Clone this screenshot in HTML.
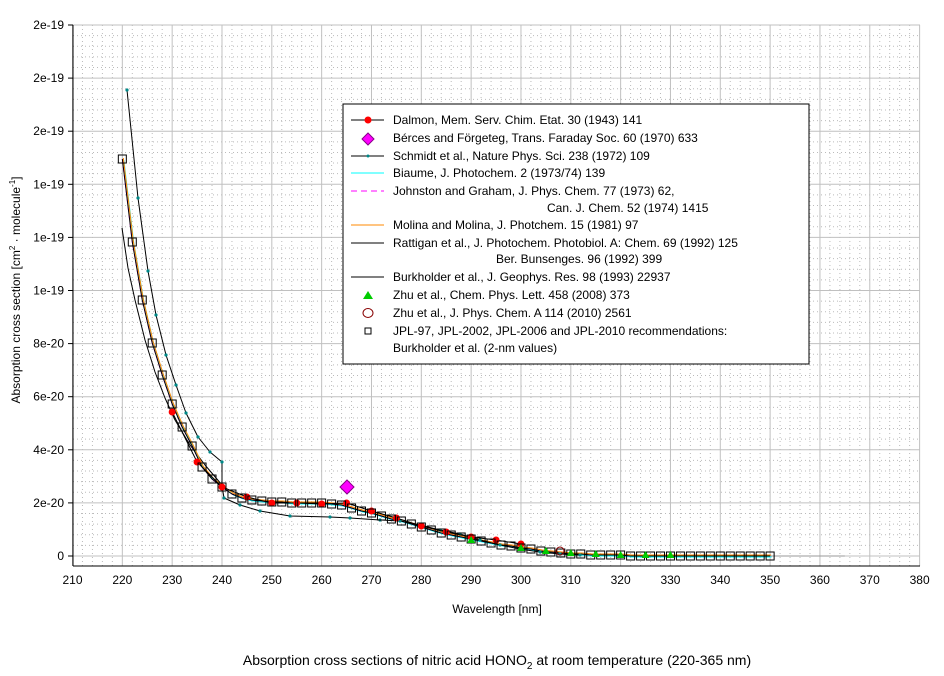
<!DOCTYPE html>
<html><head><meta charset="utf-8"><style>
body{margin:0;background:#fff;width:944px;height:676px;overflow:hidden}
svg{display:block;font-family:"Liberation Sans",Arial,sans-serif}
</style></head><body>
<svg id="s" width="944" height="676" viewBox="0 0 944 676" xmlns="http://www.w3.org/2000/svg">
<g id="grid"></g>
<g id="data"></g>
<line x1="73" y1="25" x2="73" y2="566" stroke="#000"/>
<line x1="73" y1="566" x2="920" y2="566" stroke="#000"/>
<g id="lab" font-size="12" fill="#000"></g>
<text x="497" y="613" font-size="12" text-anchor="middle">Wavelength [nm]</text>
<text transform="translate(20,290) rotate(-90)" font-size="12" text-anchor="middle">Absorption cross section [cm<tspan font-size="8" dy="-5">2</tspan><tspan dy="5"> · molecule</tspan><tspan font-size="8" dy="-5">-1</tspan><tspan dy="5">]</tspan></text>
<text x="497" y="665" font-size="14" text-anchor="middle">Absorption cross sections of nitric acid HONO<tspan font-size="10" dy="4">2</tspan><tspan dy="-4"> at room temperature (220-365 nm)</tspan></text>
<g id="leg" font-size="12">
<rect x="343" y="104" width="466" height="260" fill="#fff" stroke="#000"/>
<line x1="351" y1="120" x2="384" y2="120" stroke="#000"/><circle cx="368" cy="120" r="3.5" fill="#f00"/>
<path d="M368 133 L374 139 L368 145 L362 139Z" fill="#f0f" stroke="#808"/>
<line x1="351" y1="156" x2="384" y2="156" stroke="#000"/><circle cx="368" cy="156" r="1.5" fill="#088"/>
<line x1="351" y1="173" x2="384" y2="173" stroke="#0ff"/>
<line x1="351" y1="191" x2="384" y2="191" stroke="#f0f" stroke-dasharray="6,4"/>
<line x1="351" y1="225" x2="384" y2="225" stroke="#f80"/>
<line x1="351" y1="243" x2="384" y2="243" stroke="#000"/>
<line x1="351" y1="277" x2="384" y2="277" stroke="#000"/>
<path d="M368 291 L373 299 L363 299Z" fill="#0c0"/>
<ellipse cx="368" cy="313" rx="5" ry="4.5" fill="none" stroke="#800"/>
<rect x="365" y="328" width="6" height="6" fill="none" stroke="#000"/>
<text x="393" y="124">Dalmon, Mem. Serv. Chim. Etat. 30 (1943) 141</text>
<text x="393" y="142">Bérces and Förgeteg, Trans. Faraday Soc. 60 (1970) 633</text>
<text x="393" y="160">Schmidt et al., Nature Phys. Sci. 238 (1972) 109</text>
<text x="393" y="177">Biaume, J. Photochem. 2 (1973/74) 139</text>
<text x="393" y="195">Johnston and Graham, J. Phys. Chem. 77 (1973) 62,</text>
<text x="547" y="212">Can. J. Chem. 52 (1974) 1415</text>
<text x="393" y="229">Molina and Molina, J. Photchem. 15 (1981) 97</text>
<text x="393" y="247">Rattigan et al., J. Photochem. Photobiol. A: Chem. 69 (1992) 125</text>
<text x="496" y="263">Ber. Bunsenges. 96 (1992) 399</text>
<text x="393" y="281">Burkholder et al., J. Geophys. Res. 98 (1993) 22937</text>
<text x="393" y="299">Zhu et al., Chem. Phys. Lett. 458 (2008) 373</text>
<text x="393" y="317">Zhu et al., J. Phys. Chem. A 114 (2010) 2561</text>
<text x="393" y="335">JPL-97, JPL-2002, JPL-2006 and JPL-2010 recommendations:</text>
<text x="393" y="352">Burkholder et al. (2-nm values)</text>
</g>
</svg>
<script>
const NS="http://www.w3.org/2000/svg";
function el(p,t,a){const e=document.createElementNS(NS,t);for(const k in a)e.setAttribute(k,a[k]);p.appendChild(e);return e;}
const g=document.getElementById('grid'),d=document.getElementById('data'),lab=document.getElementById('lab');
const X=w=>72.5+(w-210)*4.983, Y0=556, YS=53.1;
for(let i=0;i<=85;i++){const x=72.5+i*9.966;if(i%5)el(g,'line',{x1:x,y1:25,x2:x,y2:566,stroke:'#bbb','stroke-dasharray':'1,3'});}
for(let i=-1;i<=50;i++){const y=Y0-i*YS/5;if(y<25||y>566)continue;if(i%5)el(g,'line',{x1:73,y1:y,x2:920,y2:y,stroke:'#bbb','stroke-dasharray':'1,3'});}
for(let i=0;i<=17;i++){const x=X(210+i*10);el(g,'line',{x1:x,y1:25,x2:x,y2:566,stroke:'#c0c0c0'});const t=el(lab,'text',{x:x,y:584,'text-anchor':'middle'});t.textContent=210+i*10;}
const yl=['0','2e-20','4e-20','6e-20','8e-20','1e-19','1e-19','1e-19','2e-19','2e-19','2e-19'];
for(let i=0;i<=10;i++){const y=Y0-i*YS;el(g,'line',{x1:73,y1:y,x2:920,y2:y,stroke:'#c0c0c0'});el(g,'line',{x1:68,y1:y,x2:73,y2:y,stroke:'#000'});const t=el(lab,'text',{x:64,y:y+4,'text-anchor':'end'});t.textContent=yl[i];}
function pl(pts,st,w,dash){el(d,'polyline',{points:pts.map(p=>p.join(',')).join(' '),fill:'none',stroke:st,'stroke-width':w||1,'stroke-dasharray':dash||'none','stroke-linejoin':'round'});}
const sq=[[220,159],[222,242],[224,300],[226,343],[228,375],[230,404],[232,427],[234,446],[236,467],[238,479],[240,487],[242,494],[244,498],[246,500],[248,501],[250,502],[252,502],[254,503],[256,503],[258,503],[260,503],[262,504],[264,505],[266,508],[268,511],[270,513],[272,516],[274,519],[276,521],[278,524],[280,527],[282,530],[284,533],[286,535],[288,537],[290,539],[292,541],[294,543],[296,545],[298,546],[300,548],[302,549],[304,551],[306,552],[308,553],[310,554],[312,554],[314,555],[316,555],[318,555],[320,555],[322,556],[324,556],[326,556],[328,556],[330,556],[332,556],[334,556],[336,556],[338,556],[340,556],[342,556],[344,556],[346,556],[348,556],[350,556]];
const P=sq.map(p=>[X(p[0]),p[1]]);
el(d,'line',{x1:X(350),y1:556,x2:X(365),y2:556,stroke:'#999'});
pl([[122,228],[128,268],[135,300],[145,340],[155,372],[165,398],[175,420],[190,445],[205,465],[222,485]],'#000');
pl(P.map(p=>[p[0]+1.5,p[1]+1]),'#0ff');pl(P,'#f0f',1,'5,3');pl(P.map(p=>[p[0]+1,p[1]-1]),'#f80');pl(P,'#000');
const sc=[[127,90],[138,198],[148,271],[156,315],[166,355],[176,385],[186,413],[198,437],[210,452],[222,462],[222,486],[224,498],[240,505],[260,511],[290,516],[330,517],[350,518],[380,520],[400,521],[420,525],[440,530],[460,534],[480,540],[500,545],[520,549],[540,552],[560,554],[580,555]];
pl(sc,'#000');sc.forEach(p=>el(d,'circle',{cx:p[0],cy:p[1],r:1.6,fill:'#088'}));
const dm=[[230,412],[235,462],[240,487],[245,497],[250,503],[255,503],[260,504],[265,503],[270,511],[275,518],[280,526],[285,532],[290,537],[295,540],[300,544]];
pl(dm.map(p=>[X(p[0]),p[1]]),'#000');dm.forEach(p=>el(d,'circle',{cx:X(p[0]),cy:p[1],r:3.5,fill:'#f00'}));
P.forEach(p=>el(d,'rect',{x:p[0]-4,y:p[1]-4,width:8,height:8,fill:'none',stroke:'#000'}));
[[290,540],[300,548],[305,551],[310,553],[315,554],[320,555],[325,555],[330,555]].forEach(p=>{const x=X(p[0]),y=p[1];el(d,'path',{d:`M${x} ${y-4}L${x+4} ${y+3}L${x-4} ${y+3}Z`,fill:'#0c0'});});
el(d,'ellipse',{cx:560,cy:551,rx:4,ry:4,fill:'none',stroke:'#800'});
el(d,'path',{d:'M347 480L354 487L347 494L340 487Z',fill:'#f0f',stroke:'#808'});
</script>
</body></html>
